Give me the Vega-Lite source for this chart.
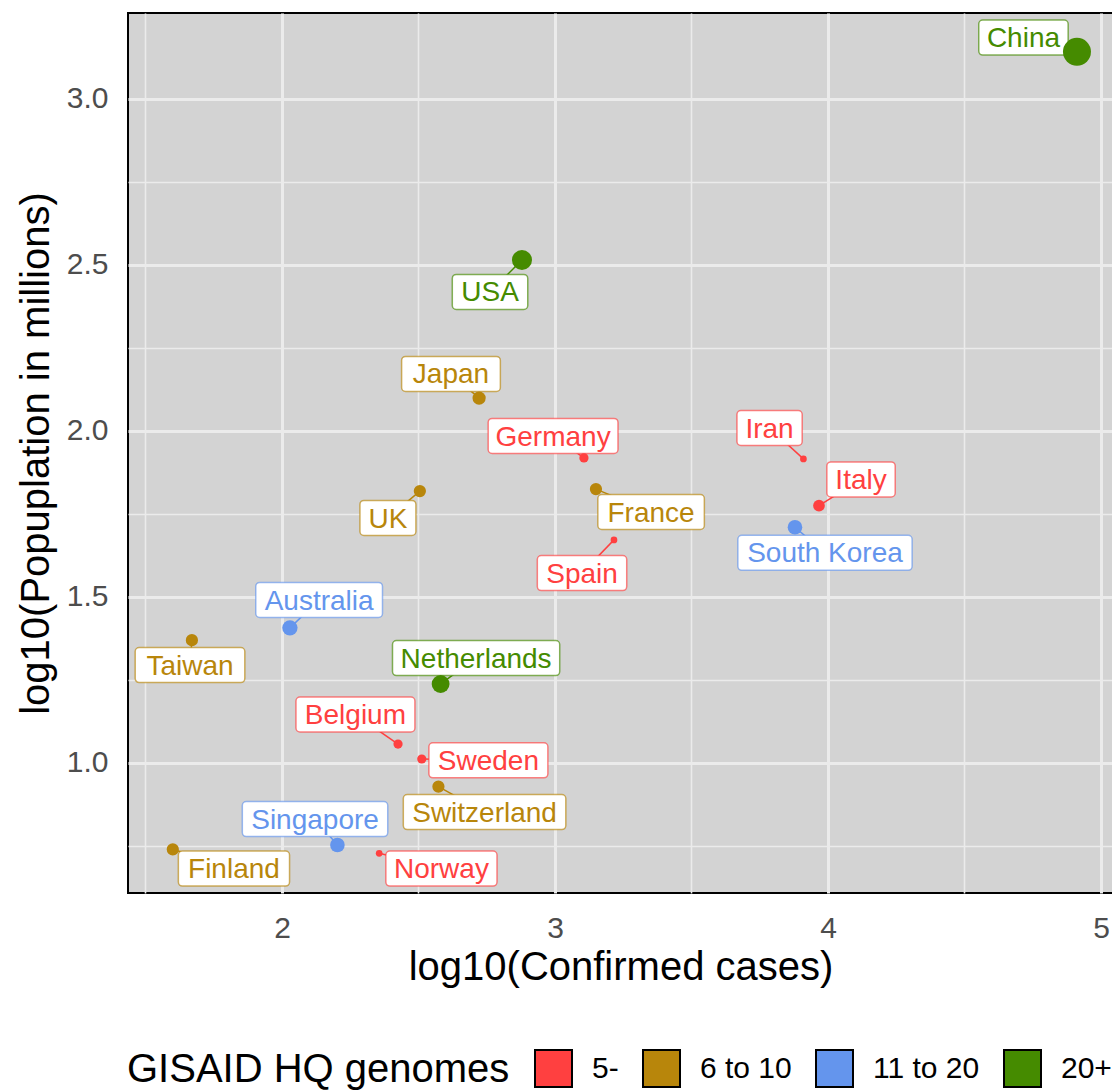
{
  "$schema": "https://vega.github.io/schema/vega-lite/v6.json",
  "width": 985,
  "height": 880,
  "autosize": {"type": "none"},
  "padding": {"left": 128, "top": 13, "right": 0, "bottom": 198},
  "background": "white",
  "config": {
    "font": "Liberation Sans",
    "view": {"fill": "#D3D3D3", "stroke": "black", "strokeWidth": 2},
    "axisX": {"grid": true, "gridColor": "#EBEBEB", "gridWidth": {"condition": {"test": "datum.value % 1 === 0", "value": 3}, "value": 1.6}, "ticks": false, "domain": false, "labelFontSize": 30, "labelColor": "#4D4D4D", "labelPadding": 20, "titleFontSize": 40, "titleColor": "black", "titleFontWeight": "normal", "titlePadding": 4},
    "axisY": {"grid": true, "gridColor": "#EBEBEB", "gridWidth": {"condition": {"test": "(datum.value*2) % 1 === 0", "value": 3}, "value": 1.6}, "ticks": false, "domain": false, "labelFontSize": 30, "labelColor": "#4D4D4D", "labelPadding": 20, "titleFontSize": 40, "titleColor": "black", "titleFontWeight": "normal", "titlePadding": 10}
  },
  "data": {
    "values": [
      {"country": "China", "x": 4.912, "y": 3.142, "lx": 4.716, "ly": 3.185, "group": "20+", "genomes": 74},
      {"country": "USA", "x": 2.879, "y": 2.515, "lx": 2.762, "ly": 2.419, "group": "20+", "genomes": 30},
      {"country": "Japan", "x": 2.722, "y": 2.099, "lx": 2.619, "ly": 2.172, "group": "6 to 10", "genomes": 8},
      {"country": "Germany", "x": 3.106, "y": 1.919, "lx": 2.993, "ly": 1.985, "group": "5-", "genomes": 2},
      {"country": "Iran", "x": 3.91, "y": 1.916, "lx": 3.786, "ly": 2.009, "group": "5-", "genomes": 1},
      {"country": "France", "x": 3.15, "y": 1.825, "lx": 3.352, "ly": 1.756, "group": "6 to 10", "genomes": 6},
      {"country": "UK", "x": 2.505, "y": 1.819, "lx": 2.388, "ly": 1.738, "group": "6 to 10", "genomes": 6},
      {"country": "Italy", "x": 3.967, "y": 1.775, "lx": 4.121, "ly": 1.854, "group": "5-", "genomes": 5},
      {"country": "South Korea", "x": 3.879, "y": 1.71, "lx": 3.989, "ly": 1.633, "group": "11 to 20", "genomes": 11},
      {"country": "Spain", "x": 3.216, "y": 1.672, "lx": 3.099, "ly": 1.572, "group": "5-", "genomes": 1},
      {"country": "Australia", "x": 2.029, "y": 1.407, "lx": 2.136, "ly": 1.491, "group": "11 to 20", "genomes": 13},
      {"country": "Taiwan", "x": 1.67, "y": 1.37, "lx": 1.663, "ly": 1.295, "group": "6 to 10", "genomes": 6},
      {"country": "Netherlands", "x": 2.581, "y": 1.238, "lx": 2.711, "ly": 1.316, "group": "20+", "genomes": 21},
      {"country": "Belgium", "x": 2.425, "y": 1.057, "lx": 2.269, "ly": 1.146, "group": "5-", "genomes": 2},
      {"country": "Sweden", "x": 2.512, "y": 1.012, "lx": 2.756, "ly": 1.008, "group": "5-", "genomes": 2},
      {"country": "Switzerland", "x": 2.573, "y": 0.929, "lx": 2.742, "ly": 0.852, "group": "6 to 10", "genomes": 6},
      {"country": "Singapore", "x": 2.203, "y": 0.753, "lx": 2.121, "ly": 0.831, "group": "11 to 20", "genomes": 11},
      {"country": "Finland", "x": 1.6, "y": 0.74, "lx": 1.824, "ly": 0.682, "group": "6 to 10", "genomes": 6},
      {"country": "Norway", "x": 2.356, "y": 0.728, "lx": 2.584, "ly": 0.682, "group": "5-", "genomes": 1}
    ]
  },
  "transform": [
    {"calculate": "length(datum.country)*0.556 - 0.334*(length(datum.country)-length(replace(datum.country, regexp('[ijl]','g'), ''))) - 0.278*(length(datum.country)-length(replace(datum.country, regexp('[tfI ]','g'), ''))) - 0.223*(length(datum.country)-length(replace(datum.country, regexp('r','g'), ''))) + 0.277*(length(datum.country)-length(replace(datum.country, regexp('m','g'), ''))) + 0.166*(length(datum.country)-length(replace(datum.country, regexp('w','g'), ''))) - 0.056*(length(datum.country)-length(replace(datum.country, regexp('[scykz]','g'), ''))) + 0.14*(length(datum.country)-length(replace(datum.country, regexp('[A-HJ-Z]','g'), '')))", "as": "wem"},
    {"calculate": "(datum.wem*28+17)/2/273", "as": "hw"},
    {"calculate": "datum.lx - datum.hw", "as": "bx1"},
    {"calculate": "datum.lx + datum.hw", "as": "bx2"},
    {"calculate": "datum.ly - 17.5/332", "as": "by1"},
    {"calculate": "datum.ly + 17.5/332", "as": "by2"}
  ],
  "layer": [
    {
      "mark": {"type": "rule", "strokeWidth": 1.5},
      "encoding": {
        "x": {"field": "x", "type": "quantitative", "scale": {"domain": [1.4359, 5.044], "nice": false, "zero": false}, "axis": {"title": "log10(Confirmed cases)", "values": [1.5, 2, 2.5, 3, 3.5, 4, 4.5, 5], "labelExpr": "datum.value % 1 === 0 ? format(datum.value, 'd') : ''"}},
        "y": {"field": "y", "type": "quantitative", "scale": {"domain": [0.6084, 3.259], "nice": false, "zero": false}, "axis": {"title": "log10(Popuplation in millions)", "values": [0.75, 1, 1.25, 1.5, 1.75, 2, 2.25, 2.5, 2.75, 3], "labelExpr": "(datum.value*2) % 1 === 0 ? format(datum.value, '.1f') : ''"}},
        "x2": {"field": "lx"},
        "y2": {"field": "ly"},
        "stroke": {"field": "group", "type": "nominal", "scale": {"domain": ["20+", "11 to 20", "6 to 10", "5-"], "range": ["#458B00", "#6495ED", "#B8860B", "#FF4040"]}, "legend": null}
      }
    },
    {
      "mark": {"type": "rect", "fill": "white", "strokeWidth": 1.5, "strokeOpacity": 0.65, "cornerRadius": 4},
      "encoding": {
        "x": {"field": "bx1", "type": "quantitative", "scale": {"domain": [1.4359, 5.044], "nice": false, "zero": false}, "axis": {"title": "log10(Confirmed cases)", "values": [1.5, 2, 2.5, 3, 3.5, 4, 4.5, 5], "labelExpr": "datum.value % 1 === 0 ? format(datum.value, 'd') : ''"}},
        "x2": {"field": "bx2"},
        "y": {"field": "by1", "type": "quantitative", "scale": {"domain": [0.6084, 3.259], "nice": false, "zero": false}, "axis": {"title": "log10(Popuplation in millions)", "values": [0.75, 1, 1.25, 1.5, 1.75, 2, 2.25, 2.5, 2.75, 3], "labelExpr": "(datum.value*2) % 1 === 0 ? format(datum.value, '.1f') : ''"}},
        "y2": {"field": "by2"},
        "stroke": {"field": "group", "type": "nominal", "scale": {"domain": ["20+", "11 to 20", "6 to 10", "5-"], "range": ["#458B00", "#6495ED", "#B8860B", "#FF4040"]}, "legend": null}
      }
    },
    {
      "mark": {"type": "text", "fontSize": 28, "baseline": "middle", "align": "center", "dy": 1.6},
      "encoding": {
        "x": {"field": "lx", "type": "quantitative", "scale": {"domain": [1.4359, 5.044], "nice": false, "zero": false}, "axis": {"title": "log10(Confirmed cases)", "values": [1.5, 2, 2.5, 3, 3.5, 4, 4.5, 5], "labelExpr": "datum.value % 1 === 0 ? format(datum.value, 'd') : ''"}},
        "y": {"field": "ly", "type": "quantitative", "scale": {"domain": [0.6084, 3.259], "nice": false, "zero": false}, "axis": {"title": "log10(Popuplation in millions)", "values": [0.75, 1, 1.25, 1.5, 1.75, 2, 2.25, 2.5, 2.75, 3], "labelExpr": "(datum.value*2) % 1 === 0 ? format(datum.value, '.1f') : ''"}},
        "text": {"field": "country"},
        "fill": {"field": "group", "type": "nominal", "scale": {"domain": ["11 to 20", "5-", "20+", "6 to 10"], "range": ["#6495ED", "#FF4040", "#458B00", "#B8860B"]}, "legend": null}
      }
    },
    {
      "mark": {"type": "point", "shape": "circle", "filled": true, "opacity": 1},
      "encoding": {
        "x": {"field": "x", "type": "quantitative", "scale": {"domain": [1.4359, 5.044], "nice": false, "zero": false}, "axis": {"title": "log10(Confirmed cases)", "values": [1.5, 2, 2.5, 3, 3.5, 4, 4.5, 5], "labelExpr": "datum.value % 1 === 0 ? format(datum.value, 'd') : ''"}},
        "y": {"field": "y", "type": "quantitative", "scale": {"domain": [0.6084, 3.259], "nice": false, "zero": false}, "axis": {"title": "log10(Popuplation in millions)", "values": [0.75, 1, 1.25, 1.5, 1.75, 2, 2.25, 2.5, 2.75, 3], "labelExpr": "(datum.value*2) % 1 === 0 ? format(datum.value, '.1f') : ''"}},
        "size": {"field": "genomes", "type": "quantitative", "scale": {"type": "linear", "domain": [1, 2, 5, 11, 21, 41, 74], "range": [45, 85, 137, 213, 319, 505, 784], "zero": false}, "legend": null},
        "color": {"field": "group", "type": "nominal", "scale": {"domain": ["5-", "6 to 10", "11 to 20", "20+"], "range": ["#FF4040", "#B8860B", "#6495ED", "#458B00"]},
          "legend": {"title": "GISAID HQ genomes", "orient": "none", "legendX": -1, "legendY": 1036, "direction": "horizontal", "titleOrient": "left", "titleLimit": 1000, "titleFontSize": 40, "titleFontWeight": "normal", "titleColor": "black", "titlePadding": 24, "labelFontSize": 30, "labelColor": "black", "labelOffset": 19, "labelLimit": 500, "columnPadding": 20, "symbolType": "square", "symbolSize": 1369, "symbolStrokeColor": "black", "symbolStrokeWidth": 2, "symbolOpacity": 1, "padding": 0}}
      }
    }
  ]
}
